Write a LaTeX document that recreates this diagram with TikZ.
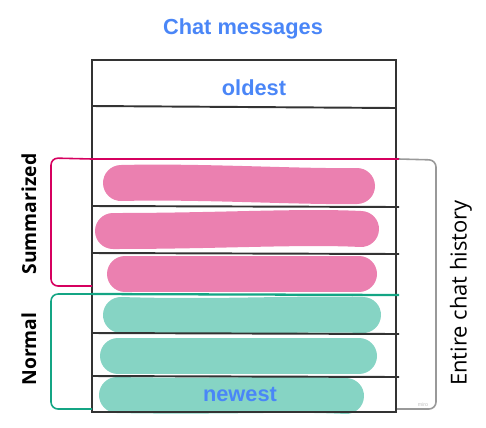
\documentclass[tikz,border=0pt]{standalone}
\usepackage{fontspec}
\setmainfont{Liberation Sans}
\newfontfamily\opensans{Open Sans}
\usetikzlibrary{positioning}
\definecolor{chatblue}{HTML}{4A86F7}
\definecolor{rowline}{HTML}{333333}
\definecolor{summpink}{HTML}{D6005F}
\definecolor{summfill}{HTML}{EB80B0}
\definecolor{normteal}{HTML}{14A584}
\definecolor{normfill}{HTML}{86D4C4}
\definecolor{histgrey}{HTML}{999999}

\tikzset{
	blabel/.style={text=chatblue, font=\bfseries\fontsize{12.4}{14}\selectfont},
	glabel/.style={rotate=90, font=\opensans\bfseries\fontsize{11}{13}\selectfont},
	scribble/.style={line width=0.72cm, line cap=round},
	rowsep/.style={rowline, line width=1.1pt},
	brace/.style={line width=0.9pt, rounded corners=4pt},
}

\begin{document}
\begin{tikzpicture}[x=0.02cm, y=-0.02cm]
	\useasboundingbox (0,0) rectangle (486,427);
	% scribbled messages
	\draw[scribble, summfill] (121,183) .. controls (200,181) and (300,187) .. (357,186);
	\draw[scribble, summfill] (113,231) .. controls (220,231) and (300,226) .. (361,229);
	\draw[scribble, summfill] (125,274) -- (359,274);
	\draw[scribble, normfill] (121,315) .. controls (220,318) and (300,313) .. (363,315);
	\draw[scribble, normfill] (118,356) -- (359,356);
	\draw[scribble, normfill] (117,395) .. controls (220,397) and (290,393) .. (346,396);
	% rows
	\coordinate (tl) at (92,60);
	\coordinate (br) at (396,412);
	\draw[rowsep] (tl) rectangle (br);
	\coordinate (r1l) at (92,106);  \coordinate (r1r) at (396,108);
	\coordinate (r2l) at (92,159);  \coordinate (r2r) at (399,159);
	\coordinate (r3l) at (92,206);  \coordinate (r3r) at (399,207);
	\coordinate (r4l) at (92,253);  \coordinate (r4r) at (399,254);
	\coordinate (r5l) at (92,294);  \coordinate (r5r) at (399,295);
	\coordinate (r6l) at (92,333);  \coordinate (r6r) at (399,334);
	\coordinate (r7l) at (92,376);  \coordinate (r7r) at (399,377);
	\draw[rowsep] (r1l) -- (r1r);
	\draw[rowsep] (r3l) -- (r3r);
	\draw[rowsep] (r4l) -- (r4r);
	\draw[rowsep] (r6l) -- (r6r);
	\draw[rowsep] (r7l) -- (r7r);
	\draw[summpink, line width=1.3pt] (r2l) -- (r2r);
	\draw[normteal, line width=1.3pt] (r5l) -- (r5r);
	% brackets
	\coordinate (sumbot) at (92,286);
	\coordinate (normbot) at (92,409);
	\coordinate (histbot) at (397,409);
	\draw[brace, summpink] (r2l) -- (51,158) -- (51,286) -- (sumbot);
	\draw[brace, normteal] (r5l) -- (51,294) -- (51,409) -- (normbot);
	\draw[brace, histgrey] (r2r) -- (436,160) -- (436,409) -- (histbot);
	% labels
	\node[blabel] (title) at (243,29) {Chat messages};
	\node[blabel] (oldest) at (254,88) {oldest};
	\node[blabel] (newest) at (240,394) {newest};
	\node[glabel] (summ) at (29,214) {Summarized};
	\node[glabel] (norm) at (29,349) {Normal};
	\node[rotate=90, font=\opensans\fontsize{12.5}{15}\selectfont] (hist) at (461,293) {Entire chat history};
	\node[text=black!25, font=\fontsize{3}{4}\selectfont] (miro) at (423,405) {miro};
\end{tikzpicture}
\end{document}
